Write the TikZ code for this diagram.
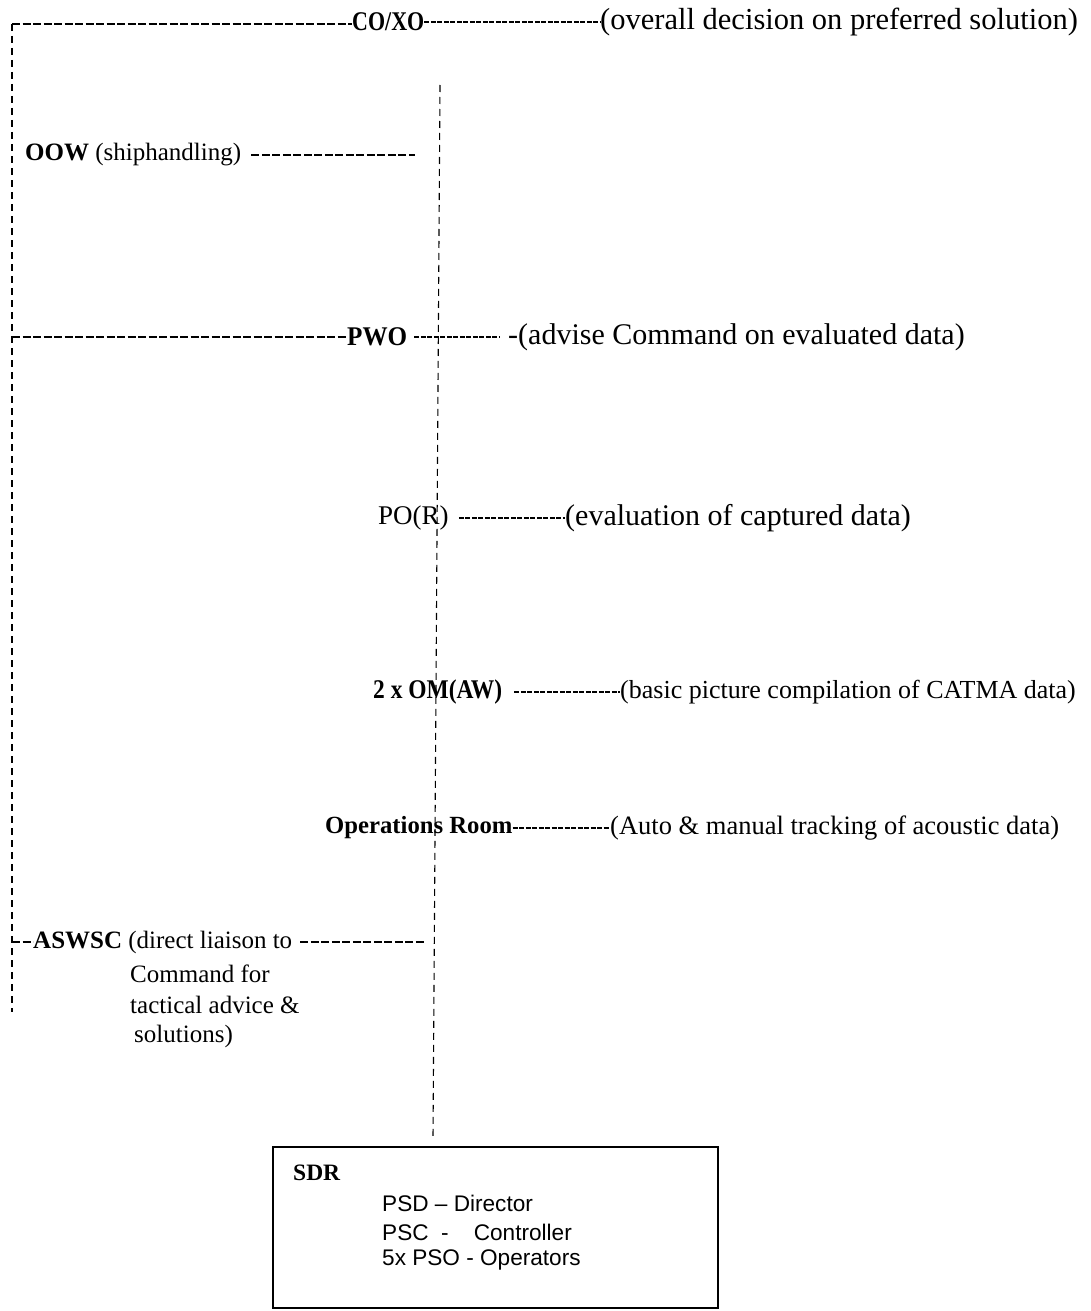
\documentclass[tikz,border=0pt]{standalone}
\usepackage{fontspec}
\setmainfont{Liberation Serif}
\newfontfamily\boxsans{Liberation Sans}
\usepackage{graphicx}
\newcommand{\fitw}[2]{\resizebox{#1}{\height}{#2}}
\newcommand{\fs}[1]{\fontsize{#1}{#1}\selectfont}
\begin{document}
\begin{tikzpicture}[x=1pt,y=-1pt,
  lbl/.style={anchor=west,inner sep=0pt,font=\fs{25}},
  sbl/.style={anchor=west,inner sep=0pt,font=\fs{22.6}\boxsans},
  thickdash/.style={line width=2.2pt,dash pattern=on 8pt off 2.5pt},
  thindash/.style={line width=1.2pt,dash pattern=on 5pt off 1.5pt},
  vline/.style={line width=1.1pt,dash pattern=on 7pt off 5pt},
  boxst/.style={draw,line width=1.4pt,inner sep=0pt}]
\useasboundingbox (0,0) rectangle (1090,1311);
% coordinates for free ends
\coordinate (tl) at (12,24);
\coordinate (bl) at (12,1012);
\coordinate (pwoL) at (12,337);
\coordinate (aswL) at (12,942);
\coordinate (ctop) at (440,85);
\coordinate (cbot) at (433,1138);
\coordinate (oowend) at (415,155);
\coordinate (aswend) at (425,942);
% labels
\node[lbl] (coxo) at (352,22) {\fs{27}\fitw{72pt}{\bfseries CO/XO}};
\node[lbl] (coxot) at (600,22) {\fs{30.5}(overall decision on preferred solution)};
\node[lbl] (oow) at (25,155) {\textbf{OOW} (shiphandling)};
\node[lbl] (pwo) at (347,337) {\fs{27}\fitw{60pt}{\bfseries PWO}};
\node[lbl] (pwot) at (508,337) {\fs{30}-(advise Command on evaluated data)};
\node[lbl] (por) at (378,518) {\fs{27}PO(R)};
\node[lbl] (port) at (565,518) {\fs{30}(evaluation of captured data)};
\node[lbl] (om) at (373,692) {\fs{27}\fitw{129pt}{\bfseries 2 x OM(AW)}};
\node[lbl] (omt) at (620,692) {\fs{26}(basic picture compilation of CATMA data)};
\node[lbl] (ops) at (325,828) {\fs{24.7}\bfseries Operations Room};
\node[lbl] (opst) at (610,828) {\fs{26.5}(Auto \& manual tracking of acoustic data)};
\node[lbl] (asw) at (33,942) {\textbf{ASWSC} (direct liaison to};
\node[lbl] (asw2) at (130,974) {Command for};
\node[lbl] (asw3) at (130,1005) {tactical advice \&};
\node[lbl] (asw4) at (134,1036) {solutions)};
% SDR box
\node[boxst, minimum width=445pt, minimum height=161pt] (sdr) at (495.5,1227.5) {};
\node[lbl] (sdrt) at (293,1173) {\fs{23.5}\bfseries SDR};
\node[sbl] (psd) at (382,1203) {PSD \textendash{} Director};
\node[sbl] (psc) at (382,1232) {PSC\ \ -\ \ \ \ Controller};
\node[sbl] (pso) at (382,1260) {5x PSO - Operators};
% connectors
\draw[vline] (tl) -- (bl);
\draw[vline] (ctop) -- (cbot);
\draw[thickdash] (tl) -- (tl -| coxo.west);
\draw[thindash] (coxo.east) -- (coxot.west);
\draw[thickdash] ([xshift=10pt]oow.east) -- (oowend);
\draw[thickdash] (pwoL) -- (pwo.west);
\draw[thindash] ([xshift=7pt]pwo.east) -- ([xshift=-8pt]pwot.west);
\draw[thindash] ([xshift=10pt]por.east) -- (port.west);
\draw[thindash] ([xshift=12pt]om.east) -- (omt.west);
\draw[thindash] (ops.east) -- (opst.west);
\draw[thickdash] (aswL) -- (asw.west);
\draw[thickdash] ([xshift=8pt]asw.east) -- (aswend);
\end{tikzpicture}
\end{document}
